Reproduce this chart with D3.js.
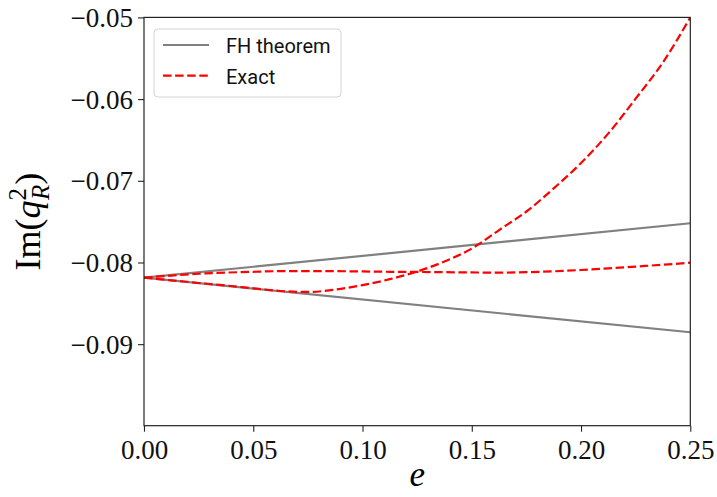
<!DOCTYPE html>
<html>
<head>
<meta charset="utf-8">
<script src="https://cdn.jsdelivr.net/npm/d3@7"></script>
<style>
  body { margin: 0; background: #fff; }
  svg { display: block; }
</style>
</head>
<body>
<svg id="chart" width="717" height="497"></svg>
<script>
let svg = d3.select("#chart");

//! DATA
let eGrid = [0, 0.0125, 0.025, 0.0375, 0.05, 0.0625, 0.075, 0.0875, 0.1, 0.1125, 0.125,
    0.1375, 0.15, 0.1625, 0.175, 0.1875, 0.2, 0.2125, 0.225, 0.2375, 0.25];
let exactSteep = [-0.08186, -0.08218, -0.08251, -0.08282, -0.08316, -0.08349, -0.08361,
    -0.08332, -0.08278, -0.08204, -0.08111, -0.07988, -0.07829, -0.07603, -0.07376,
    -0.07093, -0.06782, -0.06420, -0.05994, -0.05550, -0.05000];
let exactFlat = [-0.08186, -0.08160, -0.08138, -0.08124, -0.08114, -0.08106, -0.08105,
    -0.08106, -0.08110, -0.08114, -0.08116, -0.08119, -0.08122, -0.08124, -0.08119,
    -0.08108, -0.08092, -0.08072, -0.08050, -0.08028, -0.08002];
let fhE = [0, 0.25];
let fhUpper = [-0.08186, -0.07520];
let fhLower = [-0.08186, -0.08854];
let xTicks = [0, 0.05, 0.1, 0.15, 0.2, 0.25];
let yTicks = [-0.09, -0.08, -0.07, -0.06, -0.05];

let margin = { left: 144, top: 17.4, right: 717 - 690.3, bottom: 497 - 425.7 };
let W = 717 - margin.left - margin.right;
let H = 497 - margin.top - margin.bottom;

let x = d3.scaleLinear().domain([0, 0.25]).range([0, W]);
let y = d3.scaleLinear().domain([-0.09998, -0.05]).range([H, 0]);

let serif = "'Liberation Serif', 'DejaVu Serif', serif";

let g = svg.append("g").attr("transform", `translate(${margin.left},${margin.top})`);

g.append("clipPath").attr("id", "clip")
    .append("rect").attr("width", W).attr("height", H);

let line = d3.line()
    .x(function (d) { return x(d[0]); })
    .y(function (d) { return y(d[1]); })
    .curve(d3.curveMonotoneX);

let plot = g.append("g").attr("clip-path", "url(#clip)");

//? FH theorem lines
[fhUpper, fhLower].forEach(function (vals) {
    plot.append("path")
        .datum(d3.zip(fhE, vals))
        .attr("d", line)
        .attr("fill", "none")
        .attr("stroke", "#808080")
        .attr("stroke-width", 2.2);
});

//? Exact curves
[exactFlat, exactSteep].forEach(function (vals) {
    plot.append("path")
        .datum(d3.zip(eGrid, vals))
        .attr("d", line)
        .attr("fill", "none")
        .attr("stroke", "#ff0000")
        .attr("stroke-width", 2.2)
        .attr("stroke-dasharray", "8.5,3.6");
});

//? Axes
let xAxis = g.append("g").attr("transform", `translate(0,${H})`)
    .call(d3.axisBottom(x).tickValues(xTicks).tickSize(6).tickPadding(8).tickFormat(d3.format(".2f")));
let yAxis = g.append("g")
    .call(d3.axisLeft(y).tickValues(yTicks).tickSize(6).tickPadding(5)
        .tickFormat(function (d) { return "\u2212" + d3.format(".2f")(-d); }));

[xAxis, yAxis].forEach(function (a) {
    a.select(".domain").remove();
    a.selectAll(".tick line").attr("stroke", "#222").attr("stroke-width", 1.1);
    a.selectAll(".tick text").attr("fill", "#111")
        .style("font-family", serif).style("font-size", "27px");
});
xAxis.selectAll(".tick text").attr("dy", "0.72em");
yAxis.selectAll(".tick text").attr("dy", "0.34em");

g.append("rect")
    .attr("width", W).attr("height", H)
    .attr("fill", "none").attr("stroke", "#222").attr("stroke-width", 1.2);

//? Axis labels
svg.append("text")
    .attr("x", margin.left + W / 2)
    .attr("y", 486)
    .attr("text-anchor", "middle")
    .style("font-family", serif).style("font-style", "italic").style("font-size", "35px")
    .text("e");

let yl = svg.append("g").attr("transform", `translate(40,${margin.top + H / 2}) rotate(-90)`);
let ylt = yl.append("text")
    .attr("text-anchor", "middle")
    .style("font-family", serif).style("font-size", "36px");
ylt.append("tspan").text("Im(");
ylt.append("tspan").style("font-style", "italic").text("q");
ylt.append("tspan").attr("dy", -14).style("font-size", "25px").text("2");
ylt.append("tspan").attr("dx", -12).attr("dy", 23).style("font-size", "25px").style("font-style", "italic").text("R");
ylt.append("tspan").attr("dy", -9).text(")");

//? Legend
let legendItems = [
    { name: "FH theorem", color: "#808080", dash: null, width: 2.2 },
    { name: "Exact", color: "#ff0000", dash: "8.5,3.6", width: 2.2 }
];
let legend = svg.append("g").attr("transform", "translate(154,29)");
legend.append("rect")
    .attr("width", 187).attr("height", 68)
    .attr("rx", 4).attr("ry", 4)
    .attr("fill", "#fff").attr("fill-opacity", 0.8)
    .attr("stroke", "#d4d4d4").attr("stroke-width", 1);
let li = legend.selectAll("g.item")
    .data(legendItems)
    .enter()
    .append("g")
    .attr("class", "item")
    .attr("transform", function (d, i) { return `translate(0,${16 + i * 30.7})`; });
li.append("line")
    .attr("x1", 9).attr("x2", 55)
    .attr("stroke", function (d) { return d.color; })
    .attr("stroke-width", function (d) { return d.width; })
    .attr("stroke-dasharray", function (d) { return d.dash; });
li.append("text")
    .attr("x", 72).attr("y", 8)
    .style("font-family", "Roboto, 'DejaVu Sans', sans-serif")
    .style("font-size", "20px")
    .attr("fill", "#111")
    .text(function (d) { return d.name; });
</script>
</body>
</html>
